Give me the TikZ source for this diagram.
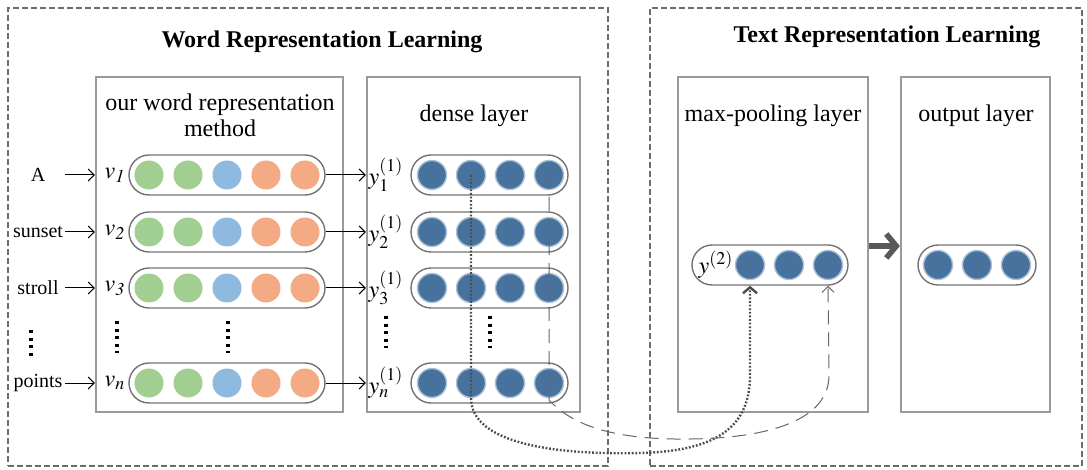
\documentclass[tikz,border=0pt]{standalone}
\usepackage{mathptmx}
\usepackage{fontspec}
\setmainfont{Liberation Serif}
\usetikzlibrary{positioning, arrows.meta}

\definecolor{cgreen}{HTML}{A0CF91}
\definecolor{cblue}{HTML}{8FBAE0}
\definecolor{corange}{HTML}{F4AA85}
\definecolor{cdense}{HTML}{46729D}
\definecolor{cframe}{HTML}{9A9A9A}

\begin{document}
\begin{tikzpicture}[
        x=0.5pt, y=-0.5pt,
        font=\fontsize{12}{14}\selectfont,
        group/.style={draw=gray!85!black, dash pattern=on 3pt off 1.5pt, line width=0.6pt, minimum width=#1, minimum height=229pt, inner sep=0pt},
        layer/.style={draw=cframe, line width=1.1pt, minimum width=#1, minimum height=167.5pt, inner sep=0pt},
        pill/.style={draw=gray!90!black, line width=0.7pt, rounded corners=10pt, minimum width=#1, minimum height=20pt, inner sep=0pt},
        dot/.style={circle, minimum size=14.5pt, inner sep=0pt},
        ddot/.style={dot, fill=cdense, draw=cdense!45!white, line width=0.7pt},
        lab/.style={inner sep=1pt},
        word/.style={font=\fontsize{10}{12}\selectfont, minimum width=27pt, inner sep=0pt},
        link/.style={-{Straight Barb[length=3pt, width=6pt]}, line width=0.5pt},
        dotlink/.style={-{Straight Barb[length=3pt, width=7pt]}, draw=black!70, line width=1.2pt, dash pattern=on 0.9pt off 0.9pt},
        dashlink/.style={-{Straight Barb[length=3pt, width=6pt]}, draw=black!60, line width=0.5pt, dash pattern=on 7pt off 4pt},
        bigarrow/.style={-{Straight Barb[length=5pt, width=12pt]}, draw=black!65, line width=2.8pt},
        vdotcol/.style={line width=1.8pt, dash pattern=on 1.6pt off 2.2pt}
    ]
        \useasboundingbox (0,0) rectangle (1087,470);

        % Outer groups
        \node[group=300pt] (wordgrp) at (308,237) {};
        \node[group=216pt] (textgrp) at (866,237) {};
        \node[font=\fontsize{12}{14}\selectfont\bfseries] (wordtitle) at (322,42) {Word Representation Learning};
        \node[font=\fontsize{12}{14}\selectfont\bfseries] (texttitle) at (887,37) {Text Representation Learning};

        % Layers
        \node[layer=123.5pt] (methodbox) at (219.5,244.5) {};
        \node[layer=106.5pt] (densebox) at (473.5,244.5) {};
        \node[layer=95pt] (poolbox) at (773,244.5) {};
        \node[layer=74.5pt] (outbox) at (975.5,244.5) {};

        \node[align=center] (methodlabel) at (220,115) {our word representation\\[-1pt]method};
        \node (denselabel) at (474,116) {dense layer};
        \node (poollabel) at (773,116) {max-pooling layer};
        \node (outlabel) at (976,116) {output layer};

        % Word rows
        \foreach \r/\yy/\w in {1/175/A, 2/232/sunset, 3/288/stroll, n/383/points} {
            \node[pill=98pt] (vrow\r) at (227,\yy) {};
            \foreach \i/\xx/\c in {1/149/cgreen, 2/188/cgreen, 3/227/cblue, 4/266/corange, 5/305/corange}
                \node[dot, fill=\c] (v\r-\i) at (\xx,\yy) {};
            \node[lab] (vlab\r) at (115,\yy) {$v_{\mathit{\r}}$};
            \node[word] (word\r) at (38,\yy) {\w};
            \draw[link] (word\r.east) -- (word\r.east -| methodbox.west);

            \node[pill=78.5pt] (drow\r) at (489.5,\yy) {};
            \foreach \i/\xx in {1/432, 2/471, 3/510, 4/549}
                \node[ddot] (d\r-\i) at (\xx,\yy) {};
            \node[lab] (ylab\r) at (386,\yy) {$y_{\r}^{(1)}$};
            \draw[link] (vrow\r.east) -- (vrow\r.east -| densebox.west);
        }

        % Vertical dots
        \draw[vdotcol] (31,330) -- (31,356);
        \draw[vdotcol] (117,321) -- (117,353);
        \draw[vdotcol] (228,321) -- (228,353);
        \draw[vdotcol] (386,316) -- (386,348);
        \draw[vdotcol] (490,316) -- (490,348);

        % Max-pooling and output
        \node[pill=78pt] (ypool) at (770,265) {};
        \foreach \i/\xx in {1/750, 2/789, 3/828}
            \node[ddot] (p-\i) at (\xx,265) {};
        \node[lab] (ylab2) at (716,265) {$y^{(2)}$};

        \node[pill=59pt] (yout) at (977,265) {};
        \foreach \i/\xx in {1/938, 2/977, 3/1016}
            \node[ddot] (o-\i) at (\xx,265) {};

        \draw[bigarrow] (poolbox.east |- 0,246) -- (outbox.west |- 0,246);

        % Pooling connections
        \draw[dotlink] (d1-2.center) -- (d1-2 |- 0,398) .. controls (471,445) and (560,455) .. (640,453)
            .. controls (720,451) and (750,425) .. (750,375) -- (p-1 |- ypool.south);
        \draw[dashlink] (d1-4.center) -- (d1-4 |- 0,400) .. controls (575,428) and (620,440) .. (690,439)
            .. controls (770,438) and (829,420) .. (829,375) -- (p-3 |- ypool.south);
    \end{tikzpicture}
\end{document}
